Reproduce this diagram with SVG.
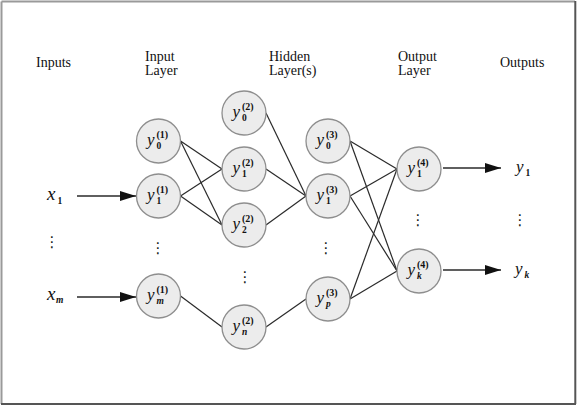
<svg xmlns="http://www.w3.org/2000/svg" width="577" height="405" viewBox="0 0 577 405">
<style>
.hdr{font-family:"Liberation Serif","Times New Roman",serif;font-size:14px;fill:#111}
.v{font-family:"Liberation Serif","Times New Roman",serif;font-style:italic;fill:#111}
.big{font-size:17px}
.sup{font-family:"Liberation Serif","Times New Roman",serif;font-size:10px;fill:#111;font-weight:bold}
.sub{font-family:"Liberation Serif","Times New Roman",serif;font-size:9.5px;fill:#111;font-weight:bold}
.subi{font-family:"Liberation Serif","Times New Roman",serif;font-size:9.5px;fill:#111;font-style:italic;font-weight:bold}
.dots{font-family:"DejaVu Sans",sans-serif;font-size:15px;fill:#222;text-anchor:middle}
.node circle{fill:#ececec;stroke:#8e8e8e;stroke-width:1.3}
.edge{stroke:#2a2a2a;stroke-width:1.2;fill:none}
.arr{stroke:#2a2a2a;stroke-width:1.3;fill:none;marker-end:url(#ah)}
</style>
<defs>
<marker id="ah" markerUnits="userSpaceOnUse" markerWidth="17" markerHeight="11" refX="16" refY="5" orient="auto">
<path d="M0,0 L16,5 L0,10 z" fill="#111"/>
</marker>
</defs>
<rect x="0" y="0" width="577" height="405" fill="#fff"/>
<line x1="1.5" y1="1.5" x2="575" y2="1.5" stroke="#9a9a9a" stroke-width="2"/>
<line x1="1.5" y1="1.5" x2="1.5" y2="404" stroke="#9a9a9a" stroke-width="2"/>
<line x1="575.3" y1="1" x2="575.3" y2="404" stroke="#555" stroke-width="2"/>
<line x1="1" y1="404" x2="576" y2="404" stroke="#555" stroke-width="2"/>

<g id="headers">
<text class="hdr" x="36" y="67">Inputs</text>
<text class="hdr" x="145" y="61">Input</text>
<text class="hdr" x="145" y="75">Layer</text>
<text class="hdr" x="269" y="61">Hidden</text>
<text class="hdr" x="269" y="75">Layer(s)</text>
<text class="hdr" x="398" y="61">Output</text>
<text class="hdr" x="398" y="75">Layer</text>
<text class="hdr" x="500" y="67">Outputs</text>
</g>

<g id="connectors">
<line class="edge" x1="180.5" y1="141" x2="222" y2="169"/>
<line class="edge" x1="180.5" y1="141" x2="222" y2="225"/>
<line class="edge" x1="180.5" y1="196" x2="222" y2="169"/>
<line class="edge" x1="180.5" y1="196" x2="222" y2="225"/>
<line class="edge" x1="180.5" y1="296" x2="222" y2="327"/>
<line class="edge" x1="266" y1="113" x2="306" y2="196"/>
<line class="edge" x1="266" y1="169" x2="306" y2="196"/>
<line class="edge" x1="266" y1="225" x2="306" y2="196"/>
<line class="edge" x1="266" y1="327" x2="306" y2="299"/>
<line class="edge" x1="350" y1="141" x2="397" y2="169"/>
<line class="edge" x1="350" y1="141" x2="397" y2="271"/>
<line class="edge" x1="350" y1="196" x2="397" y2="169"/>
<line class="edge" x1="350" y1="196" x2="397" y2="271"/>
<line class="edge" x1="350" y1="299" x2="397" y2="169"/>
<line class="edge" x1="350" y1="299" x2="397" y2="271"/>
<line class="arr" x1="77" y1="196" x2="136" y2="196"/>
<line class="arr" x1="77" y1="297" x2="136" y2="297"/>
<line class="arr" x1="443" y1="168" x2="501" y2="168"/>
<line class="arr" x1="443" y1="270" x2="501" y2="270"/>
</g>

<g id="inputs">
<text class="v" x="47" y="200" font-size="19">x</text><text class="sub" x="57.5" y="204">1</text>
<text class="dots" x="52" y="247">⋮</text>
<text class="v" x="47" y="300" font-size="19">x</text><text class="subi" x="56" y="303">m</text>
</g>

<g id="n1_0" class="node"><circle cx="158.5" cy="141" r="22"/><text class="v big" x="147" y="145">y</text><text class="sup" x="156.5" y="138">(1)</text><text class="sub" x="156.5" y="149">0</text></g>
<g id="n1_1" class="node"><circle cx="158.5" cy="196" r="22"/><text class="v big" x="147" y="200">y</text><text class="sup" x="156.5" y="193">(1)</text><text class="sub" x="156.5" y="204">1</text></g>
<text class="dots" x="158" y="253">⋮</text>
<g id="n1_m" class="node"><circle cx="158.5" cy="296" r="22"/><text class="v big" x="147" y="300">y</text><text class="sup" x="156.5" y="293">(1)</text><text class="subi" x="156.5" y="304">m</text></g>

<g id="n2_0" class="node"><circle cx="244" cy="113" r="22"/><text class="v big" x="232.5" y="117">y</text><text class="sup" x="242" y="110">(2)</text><text class="sub" x="242" y="121">0</text></g>
<g id="n2_1" class="node"><circle cx="244" cy="169" r="22"/><text class="v big" x="232.5" y="173">y</text><text class="sup" x="242" y="166">(2)</text><text class="sub" x="242" y="177">1</text></g>
<g id="n2_2" class="node"><circle cx="244" cy="225" r="22"/><text class="v big" x="232.5" y="229">y</text><text class="sup" x="242" y="222">(2)</text><text class="sub" x="242" y="233">2</text></g>
<text class="dots" x="245" y="282">⋮</text>
<g id="n2_n" class="node"><circle cx="244" cy="327" r="22"/><text class="v big" x="232.5" y="331">y</text><text class="sup" x="242" y="324">(2)</text><text class="subi" x="242" y="335">n</text></g>

<g id="n3_0" class="node"><circle cx="328" cy="141" r="22"/><text class="v big" x="316.5" y="145">y</text><text class="sup" x="326" y="138">(3)</text><text class="sub" x="326" y="149">0</text></g>
<g id="n3_1" class="node"><circle cx="328" cy="196" r="22"/><text class="v big" x="316.5" y="200">y</text><text class="sup" x="326" y="193">(3)</text><text class="sub" x="326" y="204">1</text></g>
<text class="dots" x="326" y="253">⋮</text>
<g id="n3_p" class="node"><circle cx="328" cy="299" r="22"/><text class="v big" x="316.5" y="303">y</text><text class="sup" x="326" y="296">(3)</text><text class="subi" x="326" y="307">p</text></g>

<g id="n4_1" class="node"><circle cx="419" cy="169" r="22"/><text class="v big" x="407.5" y="173">y</text><text class="sup" x="417" y="166">(4)</text><text class="sub" x="417" y="177">1</text></g>
<text class="dots" x="418" y="225">⋮</text>
<g id="n4_k" class="node"><circle cx="419" cy="271" r="22"/><text class="v big" x="407.5" y="275">y</text><text class="sup" x="417" y="268">(4)</text><text class="subi" x="417" y="279">k</text></g>

<g id="outputs">
<text class="v big" x="516" y="172">y</text><text class="sub" x="525.5" y="176">1</text>
<text class="dots" x="520" y="225">⋮</text>
<text class="v big" x="515" y="274">y</text><text class="subi" x="524.5" y="278">k</text>
</g>
</svg>
